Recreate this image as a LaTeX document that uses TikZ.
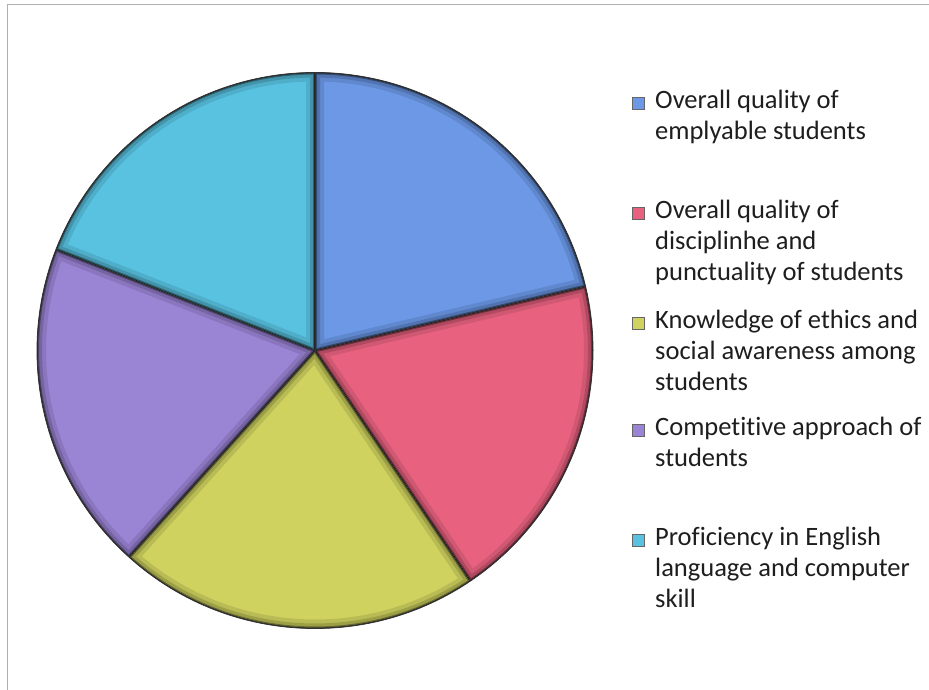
\documentclass[tikz,border=0pt]{standalone}
\usepackage{fontspec}
\setmainfont{Carlito}[Ligatures=NoCommon]
\definecolor{sBlue}{RGB}{108,152,230}
\definecolor{sPink}{RGB}{232,98,128}
\definecolor{sYellow}{RGB}{207,210,94}
\definecolor{sPurple}{RGB}{154,132,212}
\definecolor{sCyan}{RGB}{88,194,224}
\definecolor{txt}{RGB}{30,30,30}
\definecolor{frame}{RGB}{175,175,175}
\tikzset{
  legtext/.style={anchor=base west, align=left, inner sep=0pt, text=txt,
    font=\fontsize{26.5}{31}\selectfont},
  legkey/.style={minimum size=12pt, inner sep=0pt, draw=black!60, line width=0.6pt},
}
\newcommand{\pieslice}[3]{%
  \begin{scope}
    \clip (c) -- ++(#1:278) arc[start angle=#1, end angle=#2, radius=278] -- cycle;
    \fill[#3] (c) -- ++(#1:278) arc[start angle=#1, end angle=#2, radius=278] -- cycle;
    \draw[black, line width=18pt, opacity=0.10] (c) -- ++(#1:278) arc[start angle=#1, end angle=#2, radius=278] -- cycle;
    \draw[black, line width=10pt, opacity=0.15] (c) -- ++(#1:278) arc[start angle=#1, end angle=#2, radius=278] -- cycle;
    \draw[black, line width=4pt, opacity=0.35] (c) -- ++(#1:278) arc[start angle=#1, end angle=#2, radius=278] -- cycle;
    \draw[black!85, line width=1.6pt] (c) -- ++(#1:278) arc[start angle=#1, end angle=#2, radius=278] -- cycle;
  \end{scope}}
\begin{document}
\begin{tikzpicture}[x=1pt, y=1pt]
  \useasboundingbox (0,0) rectangle (929,690);
  \fill[white] (0,0) rectangle (929,690);
  % frame (top and left edges)
  \draw[frame, line width=1pt] (7,0) -- (7,685) -- (929,685);
  % pie
  \coordinate (c) at (315,339.5);
  \pieslice{90}{13.3}{sBlue}
  \pieslice{13.3}{-56}{sPink}
  \pieslice{-56}{-132}{sYellow}
  \pieslice{-132}{-201.3}{sPurple}
  \pieslice{-201.3}{-270}{sCyan}
  \draw[black!80, line width=0.8pt] (c) circle[radius=278];
  % legend
  \node[legkey, fill=sBlue]   (k1) at (638,587) {};
  \node[legtext] (t1) at (655,550) {Overall quality of\\emplyable students};
  \node[legkey, fill=sPink]   (k2) at (638,477) {};
  \node[legtext] (t2) at (655,409) {Overall quality of\\disciplinhe and\\punctuality of students};
  \node[legkey, fill=sYellow] (k3) at (638,367) {};
  \node[legtext] (t3) at (655,299) {Knowledge of ethics and\\social awareness among\\students};
  \node[legkey, fill=sPurple] (k4) at (638,260) {};
  \node[legtext] (t4) at (655,223) {Competitive approach of\\students};
  \node[legkey, fill=sCyan]   (k5) at (638,150) {};
  \node[legtext] (t5) at (655,82) {Proficiency in English\\language and computer\\skill};
\end{tikzpicture}
\end{document}
